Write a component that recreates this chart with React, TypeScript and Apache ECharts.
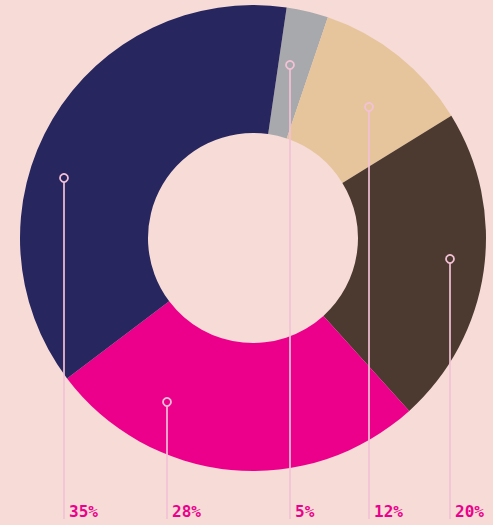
import React, { useEffect, useRef } from "react";
import * as echarts from "echarts";

// Data (clockwise order starting from the small grey slice)
const sliceNames = ["Grey", "Tan", "Brown", "Pink", "Navy"];
const sliceValues = [2.9, 11.0, 22.1, 26.4, 37.6];
const sliceLabels = ["5%", "12%", "20%", "28%", "35%"];

// Styles / layout
const sliceColors = ["#a7a9ac", "#e6c59c", "#4c3a31", "#ec008b", "#27265f"];
const markerAngleFrac = [0.364, 0.575, 0.475, 0.734, 0.404];
const markerRadiusFrac = [0.76, 0.751, 0.85, 0.795, 0.851];

const W = 493;
const H = 525;
const CX = 253;
const CY = 238;
const R_IN = 105;
const R_OUT = 233;
const START_CW = 8.3; // degrees clockwise from 12 o'clock
const LINE_BOTTOM = 519;
const LINE_COLOR = "#f3c1d6";
const TEXT_COLOR = "#ec008b";
const BG = "#f6dbd7";

export default function App() {
  const ref = useRef<HTMLDivElement>(null);

  useEffect(() => {
    if (!ref.current) return;
    const chart = echarts.init(ref.current, undefined, { renderer: "svg" });

    const total = sliceValues.reduce((a, b) => a + b, 0);
    const graphics: any[] = [];
    let acc = START_CW;
    sliceValues.forEach((v, i) => {
      const span = (v / total) * 360;
      const ang = ((acc + span * markerAngleFrac[i]) * Math.PI) / 180;
      const r = R_OUT * markerRadiusFrac[i];
      const x = Math.round(CX + r * Math.sin(ang));
      const y = Math.round(CY - r * Math.cos(ang));
      acc += span;
      graphics.push({
        type: "line",
        z: 10,
        shape: { x1: x, y1: y + 4, x2: x, y2: LINE_BOTTOM },
        style: { stroke: LINE_COLOR, lineWidth: 1.7 },
        silent: true,
      });
      graphics.push({
        type: "circle",
        z: 11,
        shape: { cx: x, cy: y, r: 4 },
        style: { fill: "none", stroke: LINE_COLOR, lineWidth: 1.8 },
        silent: true,
      });
      graphics.push({
        type: "text",
        z: 11,
        x: x + 5,
        y: 519,
        style: {
          text: sliceLabels[i],
          fill: TEXT_COLOR,
          font: "bold 16px 'DejaVu Sans Mono', monospace",
          verticalAlign: "bottom",
          align: "left",
        },
        silent: true,
      });
    });

    chart.setOption({
      animation: false,
      backgroundColor: BG,
      series: [
        {
          type: "pie",
          center: [CX, CY],
          radius: [R_IN, R_OUT],
          startAngle: 90 - START_CW,
          clockwise: true,
          silent: true,
          label: { show: false },
          labelLine: { show: false },
          itemStyle: { borderWidth: 0 },
          data: sliceNames.map((n, i) => ({
            name: n,
            value: sliceValues[i],
            itemStyle: { color: sliceColors[i] },
          })),
        },
      ],
      graphic: graphics,
    });

    return () => chart.dispose();
  }, []);

  return (
    <div
      style={{ position: "fixed", left: 0, top: 0, width: W, height: H, background: BG }}
    >
      <div ref={ref} style={{ width: W, height: H }} />
    </div>
  );
}
